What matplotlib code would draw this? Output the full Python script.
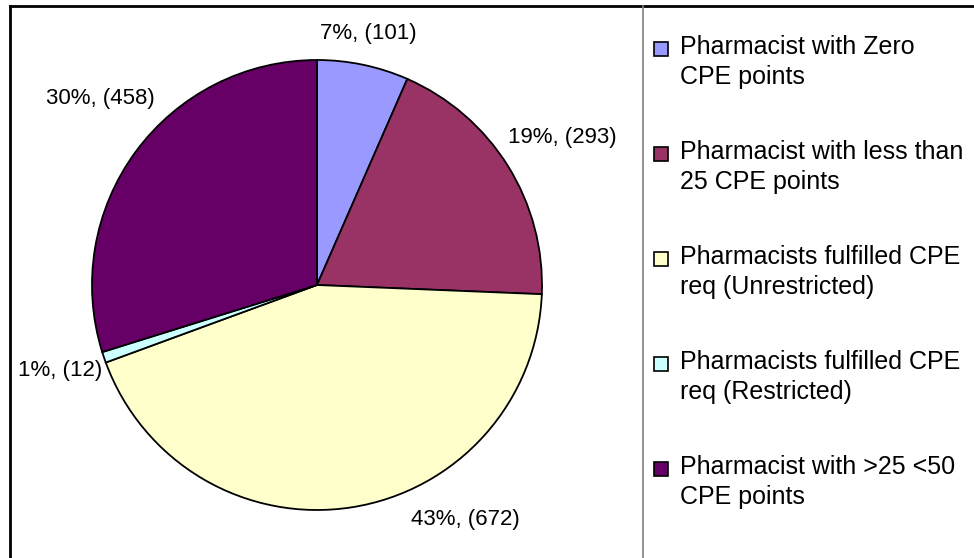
import numpy as np
import matplotlib
matplotlib.use("Agg")
import matplotlib.pyplot as plt
from matplotlib.lines import Line2D
from matplotlib.patches import Rectangle

plt.rcParams['font.family'] = ['Liberation Sans', 'DejaVu Sans']

# Data
categories = [
    "Pharmacist with Zero\nCPE points",
    "Pharmacist with less than\n25 CPE points",
    "Pharmacists fulfilled CPE\nreq (Unrestricted)",
    "Pharmacists fulfilled CPE\nreq (Restricted)",
    "Pharmacist with >25 <50\nCPE points",
]
counts = [101, 293, 672, 12, 458]
percent_labels = ["7%", "19%", "43%", "1%", "30%"]
colors = ["#9999FF", "#993366", "#FFFFCC", "#CCFFFF", "#660066"]

# label placement relative to each wedge (distance in radii, angle nudge in degrees)
label_dist = [1.141, 1.271, 1.234, 1.204, 1.27]
label_nudge = [0.3, -0.9, 23.3, -0.25, -4.3]

W, H = 974, 558
fig = plt.figure(figsize=(W / 100, H / 100), dpi=100)

# pie: centre (317, 285) px, radius 225 px
cx, cy, r = 317, 285, 225
ax = fig.add_axes([(cx - r) / W, (H - cy - r) / H, 2 * r / W, 2 * r / H])
wedges, _ = ax.pie(counts, colors=colors, startangle=90, counterclock=False,
                   wedgeprops=dict(edgecolor="black", linewidth=1.3))
ax.set_xlim(-1, 1)
ax.set_ylim(-1, 1)
ax.set_aspect("equal")
ax.axis("off")

for w, pct, n, d, nudge in zip(wedges, percent_labels, counts, label_dist, label_nudge):
    mid = np.deg2rad((w.theta1 + w.theta2) / 2 + nudge)
    ax.text(d * np.cos(mid), d * np.sin(mid), f"{pct}, ({n})",
            ha="center", va="center", fontsize=16, clip_on=False)

# frame and divider
fig.add_artist(Line2D([10 / W, 1], [1 - 6 / H, 1 - 6 / H], color="black", lw=2,
                      transform=fig.transFigure))
fig.add_artist(Line2D([10 / W, 10 / W], [0, 1 - 6 / H], color="black", lw=2,
                      transform=fig.transFigure))
fig.add_artist(Line2D([643 / W, 643 / W], [0, 1 - 6 / H], color="#808080", lw=1.2,
                      transform=fig.transFigure))

# legend drawn by hand
for i, (lab, col) in enumerate(zip(categories, colors)):
    yc = 48 + 105 * i
    fig.add_artist(Rectangle((654 / W, 1 - (yc + 8) / H), 14 / W, 14 / H,
                             facecolor=col, edgecolor="black", lw=1.2,
                             transform=fig.transFigure))
    fig.text(680 / W, 1 - (yc - 13) / H, lab, ha="left", va="top",
             fontsize=18, linespacing=1.33)

fig.savefig("out.png", dpi=100)
